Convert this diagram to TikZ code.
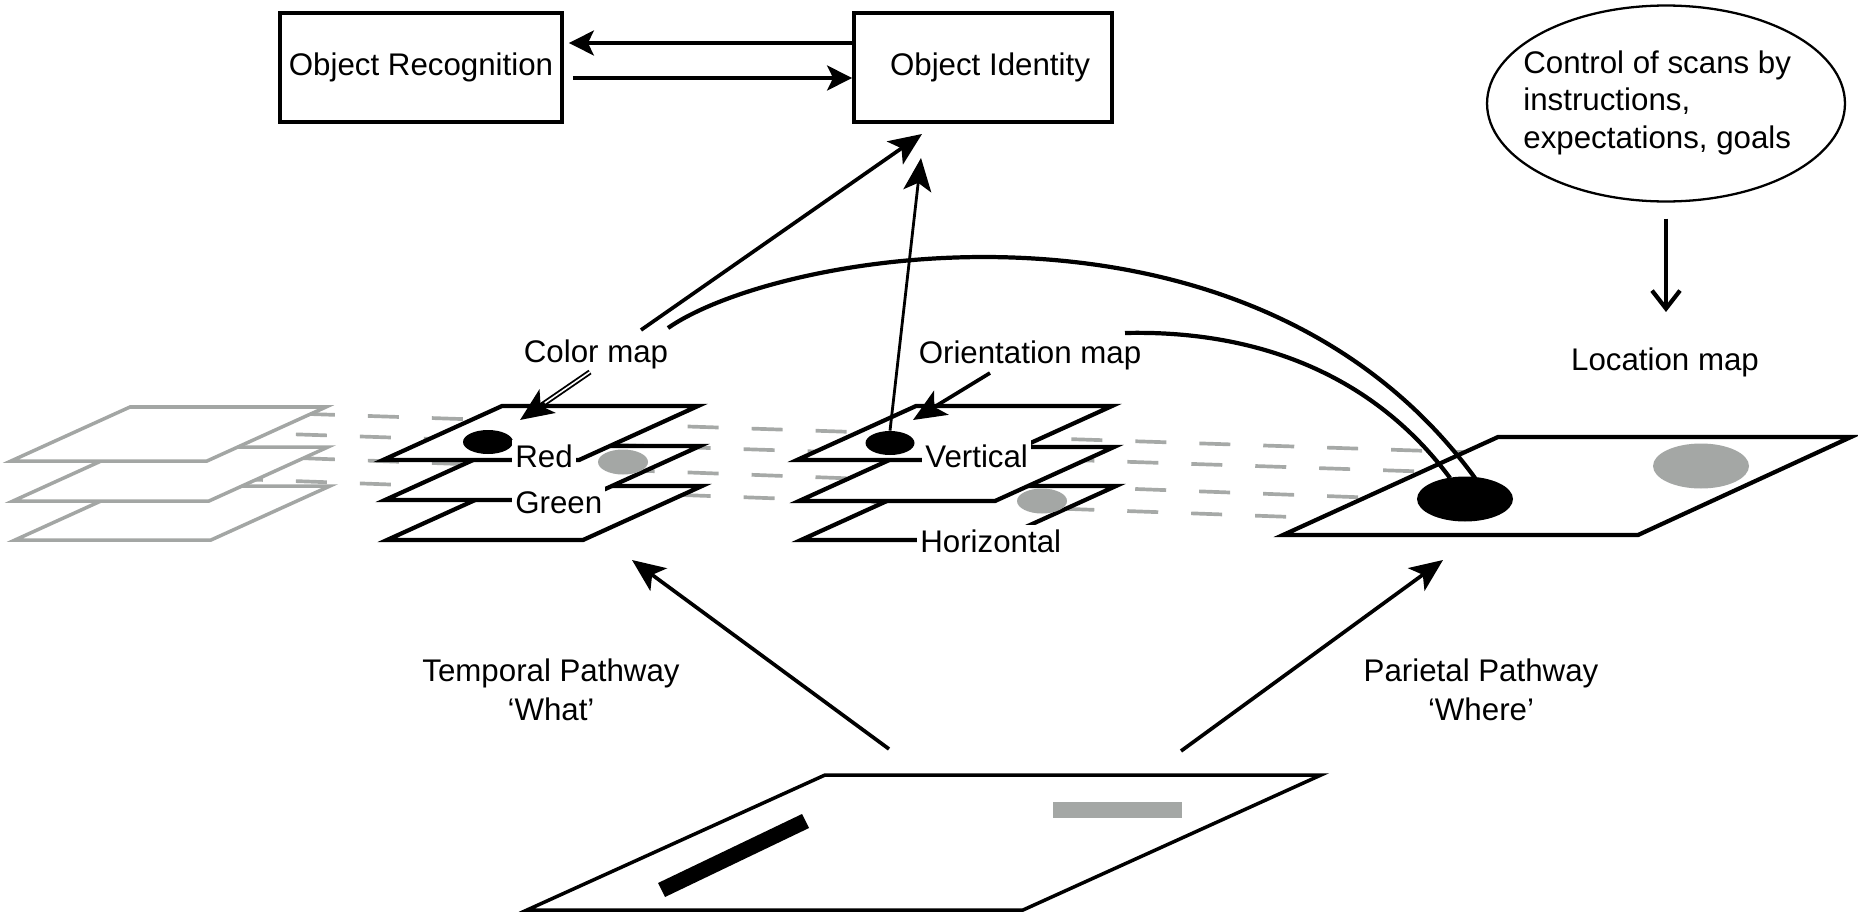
\documentclass[tikz,border=0pt]{standalone}
\usepackage{fontspec}
\setmainfont{Liberation Sans}
\usetikzlibrary{arrows.meta,shapes.geometric,calc}
\definecolor{dgray}{RGB}{166,169,167}
\definecolor{pgray}{RGB}{163,166,164}
\definecolor{dotgray}{RGB}{164,167,165}
\newcommand{\mapplane}[3]{\draw[#1] (#2,#3) -- ++(196,0) -- ++(119,-54) -- ++(-196,0) -- cycle;}
\begin{document}
\begin{tikzpicture}[x=0.02cm,y=-0.02cm,
  txt/.style={font=\fontsize{17.8}{21.4}\selectfont, inner sep=0pt},
  onplane/.style={txt, fill=white, inner xsep=0.06cm, inner ysep=0.08cm, anchor=base west},
  plane/.style={draw=black, fill=white, line width=2.4pt},
  gplane/.style={draw=pgray, fill=white, line width=2pt},
  dashrow/.style={draw=dgray, line width=2.1pt, dash pattern=on 0.62cm off 0.66cm},
  box/.style={draw, line width=2.2pt, txt, minimum height=2.18cm},
  dotb/.style={ellipse, fill=black, inner sep=0pt},
  dotg/.style={ellipse, fill=dotgray, inner sep=0pt},
  arr/.style={line width=2.1pt, -{Stealth[length=0.5cm,width=0.5cm,inset=0.12cm]}},
  bigarr/.style={line width=2.1pt, -{Stealth[length=0.66cm,width=0.56cm,inset=0.16cm]}},
  curve/.style={line width=2.4pt},
]
\useasboundingbox (0,0) rectangle (1858,916);

% ---- dashed correspondence rows (behind the maps)
\draw[dashrow] (240,411.72) -- (1600,456.6);
\draw[dashrow] (232,432.25) -- (1600,477.39);
\draw[dashrow] (240,455.86) -- (1600,506.18);
\draw[dashrow] (232,478.8) -- (1600,528.06);

% ---- gray stack
\mapplane{gplane}{15}{540}
\mapplane{gplane}{13}{501}
\mapplane{gplane}{11}{461}

% ---- color map stack
\mapplane{plane}{387}{540}
\mapplane{plane}{385}{500}
\node[dotg, minimum width=1cm, minimum height=0.5cm] (cgdot) at (623,462) {};
\mapplane{plane}{383}{460}
\node[dotb, minimum width=1cm, minimum height=0.48cm] (cdot) at (488,442) {};

% ---- orientation map stack
\mapplane{plane}{801}{540}
\mapplane{plane}{799}{501}
\mapplane{plane}{797}{460}
\node[dotb, minimum width=0.98cm, minimum height=0.48cm] (odot) at (890,443) {};
\node[dotg, minimum width=1cm, minimum height=0.5cm] (ogdot) at (1042,501) {};

% ---- location map
\draw[plane] (1283,535) -- (1638,535) -- (1851,437) -- (1498,437) -- cycle;
\node[dotb, minimum width=1.92cm, minimum height=0.9cm] (locdot) at (1465,499) {};
\node[dotg, minimum width=1.92cm, minimum height=0.9cm] (locgdot) at (1701,466) {};

% ---- input scene
\draw[line width=2pt, fill=white] (527,910) -- (1023,910) -- (1321,775) -- (825,775) -- cycle;
\fill[black] (658,883) -- (665,897) -- (809,828) -- (802,814) -- cycle;
\fill[dotgray] (1053,802) rectangle (1182,818);

% ---- labels on planes
\node[onplane] (red) at (512,467) {Red};
\node[onplane] (green) at (512,513) {Green};
\node[onplane] (vert) at (922,467) {Vertical};
\node[onplane] (horiz) at (917,552) {Horizontal};

% ---- other labels
\node[txt, anchor=base] (colmap) at (596,362) {Color map};
\node[txt, anchor=base] (orimap) at (1030,363) {Orientation map};
\node[txt, anchor=base] (locmap) at (1665,370) {Location map};
\node[txt, anchor=base] (tempA) at (551,681) {Temporal Pathway};
\node[txt, anchor=base] (tempB) at (551,720) {‘What’};
\node[txt, anchor=base] (parA) at (1481,681) {Parietal Pathway};
\node[txt, anchor=base] (parB) at (1481,720) {‘Where’};

% ---- top boxes
\node[box, minimum width=5.64cm] (recog) at (421,67.5) {Object Recognition};
\node[box, minimum width=5.16cm] (ident) at (983,67.5) {\hspace*{0.28cm}Object Identity};
\coordinate (yA) at (0,43);
\coordinate (yB) at (0,78);
\draw[arr, shorten >=0.1cm] (ident.west |- yA) -- (recog.east |- yA);
\draw[arr, shorten <=0.18cm] (recog.east |- yB) -- (ident.west |- yB);

% ---- control ellipse
\node[ellipse, draw, line width=1.3pt, minimum width=7.16cm, minimum height=3.92cm, inner sep=0pt] (ctrl) at (1666,103.5) {};
\node[txt, anchor=base west] (ctrlA) at (1523,73) {Control of scans by};
\node[txt, anchor=base west] (ctrlB) at (1523,110.5) {instructions,};
\node[txt, anchor=base west] (ctrlC) at (1523,148) {expectations, goals};
\draw[line width=2.4pt, -{Straight Barb[length=0.36cm,width=0.56cm]}, shorten <=0.32cm, shorten >=0.7cm]
  (ctrl.south) -- (ctrl.south |- locmap.north);

% ---- arrows to object identity
\coordinate (cmA) at (641,330);
\coordinate (idA) at (922,134);
\coordinate (idB) at (921,158);
\draw[bigarr] (cmA) -- (idA);
\draw[bigarr, line width=1.6pt] (odot.north) -- (idB);

% ---- map label arrows
\coordinate (cmS) at (590,372);
\coordinate (cmT) at (520,420);
\draw[bigarr, line width=3pt] (cmS) -- (cmT);
\draw[white, line width=0.9pt, shorten >=0.6cm] (cmS) -- (cmT);
\coordinate (omS) at (990,373);
\coordinate (omT) at (913,420);
\draw[bigarr] (omS) -- (omT);

% ---- curves to location map
\coordinate (cvA) at (668,328);
\coordinate (cvB) at (1475,478);
\coordinate (cvC) at (1125,333);
\coordinate (cvD) at (1450,478);
\draw[curve] (cvA) .. controls (780,250) and (1250,170) .. (cvB);
\draw[curve] (cvC) .. controls (1250,330) and (1370,370) .. (cvD);

% ---- pathways
\coordinate (tpS) at (889,749);
\coordinate (tpT) at (632,560);
\coordinate (ppS) at (1181,751);
\coordinate (ppT) at (1443,560);
\draw[bigarr] (tpS) -- (tpT);
\draw[bigarr] (ppS) -- (ppT);
\end{tikzpicture}
\end{document}
